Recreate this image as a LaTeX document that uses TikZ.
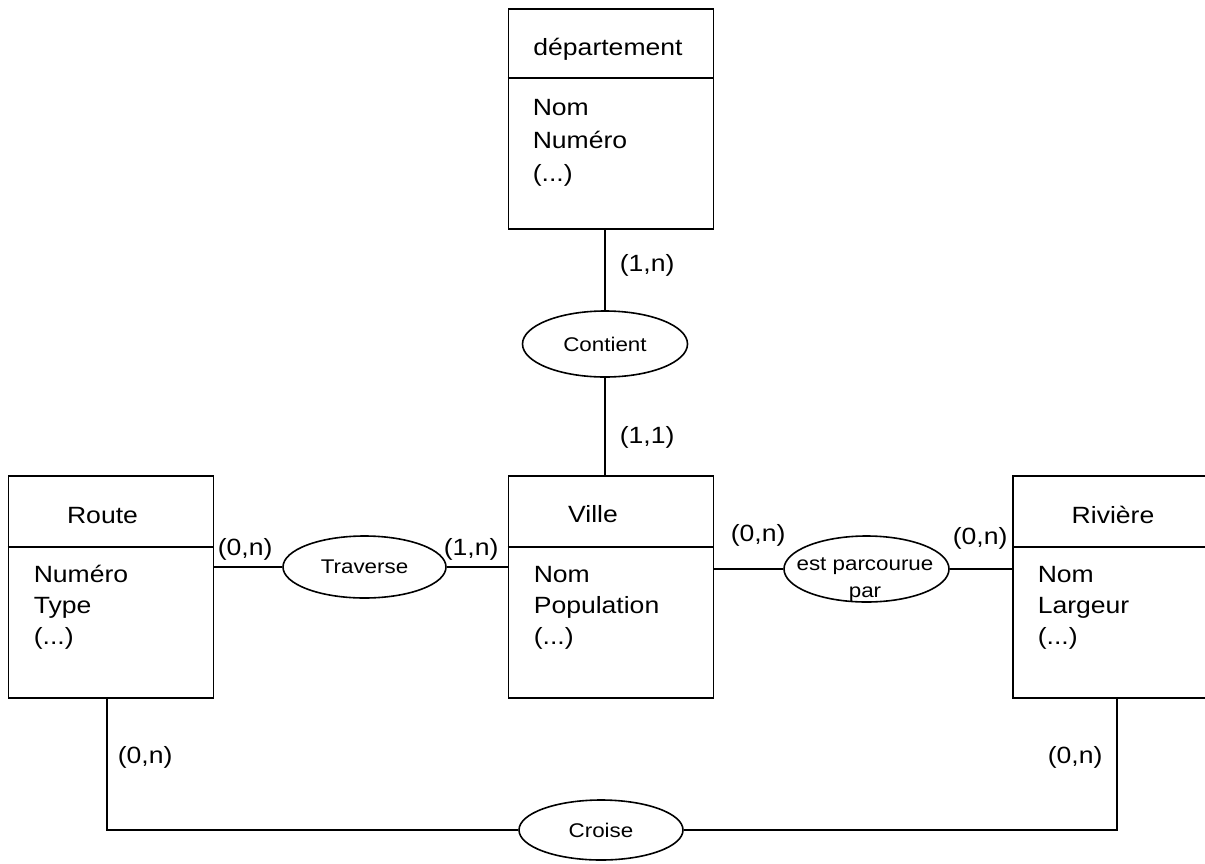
\documentclass[tikz,border=0pt]{standalone}
\usepackage{fontspec}
\setmainfont[FakeStretch=1.13]{Liberation Sans}
\usetikzlibrary{shapes.geometric}
\newcommand{\bigtxt}{\fontsize{23.5}{28}\selectfont}
\newcommand{\smalltxt}{\fontsize{19.8}{24}\selectfont}
\begin{document}
\begin{tikzpicture}[x=1pt,y=-1pt, line width=1.6pt,
  entity/.style={draw, rectangle, inner sep=0, minimum width=205pt, minimum height=222pt},
  rel/.style={draw, ellipse, inner sep=0, font=\smalltxt},
  title/.style={anchor=base, font=\bigtxt, inner sep=0},
  attr/.style={anchor=base west, font=\bigtxt, inner sep=0},
  reltxt/.style={anchor=base, font=\smalltxt, inner sep=0},
  card/.style={anchor=west, font=\bigtxt, inner sep=0}]
\useasboundingbox (0,0) rectangle (1205,863);
\fill[white] (0,0) rectangle (1205,863);

% entities
\node[entity, minimum height=220pt] (dep) at (611,119) {};
\draw ([yshift=-70pt]dep.north west) -- ([yshift=-70pt]dep.north east);
\node[entity] (route) at (111,587) {};
\draw ([yshift=-72pt]route.north west) -- ([yshift=-72pt]route.north east);
\node[entity] (ville) at (611,587) {};
\draw ([yshift=-72pt]ville.north west) -- ([yshift=-72pt]ville.north east);
\node[entity] (riv) at (1115.5,587) {};
\draw ([yshift=-72pt]riv.north west) -- ([yshift=-72pt]riv.north east);

% titles
\node[title] (depT) at (608,55) {département};
\node[title] (routeT) at (102.5,523) {Route};
\node[title] (villeT) at (593,522) {Ville};
\node[title] (rivT) at (1113,523) {Rivière};

% attributes
\node[attr] (depA1) at (532,115) {Nom};
\node[attr] (depA2) at (532,148) {Numéro};
\node[attr] (depA3) at (532,181) {(...)};
\node[attr] (routeA1) at (33,582) {Numéro};
\node[attr] (routeA2) at (33,613) {Type};
\node[attr] (routeA3) at (33,644) {(...)};
\node[attr] (villeA1) at (533,582) {Nom};
\node[attr] (villeA2) at (533,613) {Population};
\node[attr] (villeA3) at (533,644) {(...)};
\node[attr] (rivA1) at (1037,582) {Nom};
\node[attr] (rivA2) at (1037,613) {Largeur};
\node[attr] (rivA3) at (1037,644) {(...)};

% relationships
\node[rel, minimum width=165pt, minimum height=66pt] (contient) at (605,344) {Contient};
\node[rel, minimum width=163pt, minimum height=62pt] (traverse) at (364.5,567) {Traverse};
\node[rel, minimum width=165pt, minimum height=66pt] (est) at (866.5,569) {};
\node[reltxt] (estT1) at (865,570) {est parcourue};
\node[reltxt] (estT2) at (865,597) {par};
\node[rel, minimum width=164pt, minimum height=60pt] (croise) at (601,830) {Croise};

% connectors
\draw (contient.north) -- (contient.north |- dep.south);
\draw (contient.south) -- (contient.south |- ville.north);
\draw (traverse.west) -- (traverse.west -| route.east);
\draw (traverse.east) -- (traverse.east -| ville.west);
\draw (est.west) -- (est.west -| ville.east);
\draw (est.east) -- (est.east -| riv.west);
\coordinate (rb) at (107,698);
\coordinate (vb) at (1117,698);
\draw (rb) |- (croise.west);
\draw (vb) |- (croise.east);

% cardinalities
\node[card] (c1) at (619,265) {(1,n)};
\node[card] (c2) at (619,437) {(1,1)};
\node[card] (c3) at (217,549) {(0,n)};
\node[card] (c4) at (443,549) {(1,n)};
\node[card] (c5) at (730,535) {(0,n)};
\node[card] (c6) at (952,538) {(0,n)};
\node[card] (c7) at (117,757) {(0,n)};
\node[card] (c8) at (1047,757) {(0,n)};
\end{tikzpicture}
\end{document}
